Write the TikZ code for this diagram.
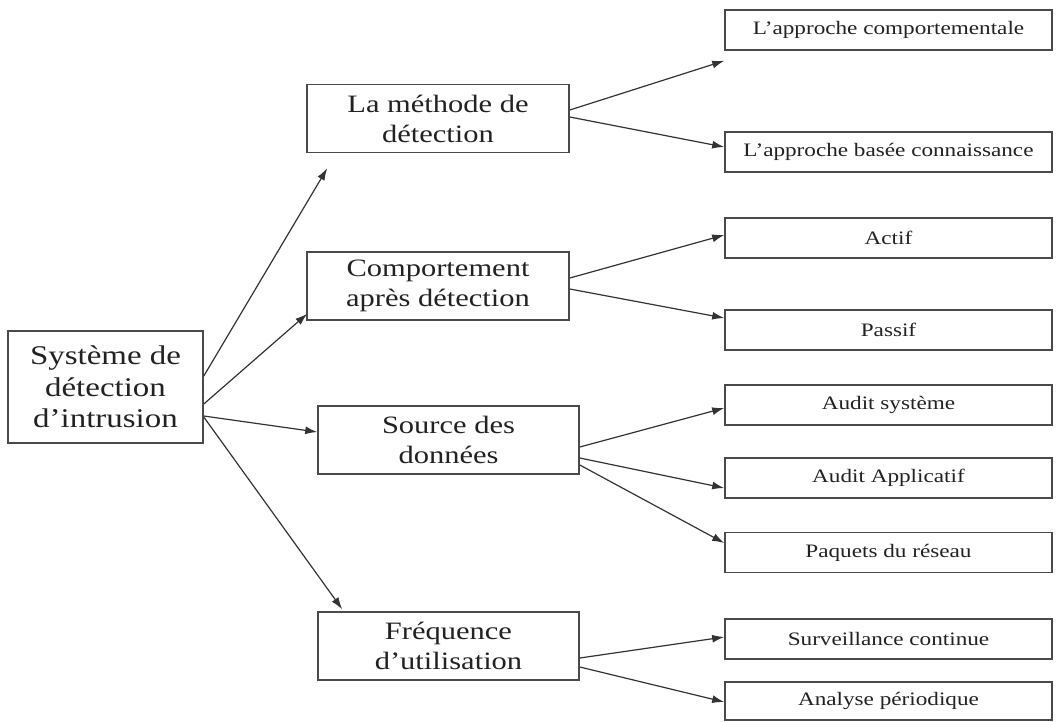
\documentclass[tikz,border=0pt]{standalone}
\usepackage{fontspec}
\setmainfont{Liberation Serif}[FakeStretch=1.22]
\usetikzlibrary{arrows.meta,calc}
\definecolor{ink}{HTML}{222222}
\definecolor{edge}{HTML}{4A4A4A}
\definecolor{wire}{HTML}{333333}
\tikzset{
  box/.style={draw=edge, line width=1.6pt, fill=white, inner sep=0pt,
    text=ink, align=center, anchor=center},
  rootbox/.style={box, minimum width=195pt, minimum height=112pt,
    font=\fontsize{27}{31.5}\selectfont},
  midbox/.style={box, minimum width=262pt, minimum height=68pt,
    font=\fontsize{25}{30}\selectfont},
  leafbox/.style={box, minimum width=327pt, minimum height=40pt,
    font=\fontsize{19}{21}\selectfont},
  link/.style={draw=wire, line width=1.2pt,
    -{Latex[length=12pt,width=8pt]}}
}
\begin{document}
\begin{tikzpicture}[x=1pt,y=-1pt]
\useasboundingbox (0,0) rectangle (1057,721);

% root
\node[rootbox] (root) at (105.5,387) {Système de\\détection\\d’intrusion};

% criteria
\node[midbox] (meth) at (438,118.5) {La méthode de\\détection};
\node[midbox] (comp) at (438,286) {Comportement\\après détection};
\node[midbox, minimum width=261pt] (src) at (448.5,440) {Source des\\données};
\node[midbox, minimum width=261pt] (freq) at (448.5,646) {Fréquence\\d’utilisation};

% leaves
\node[leafbox] (a1) at (888.5,30) {L’approche comportementale};
\node[leafbox] (a2) at (888.5,152) {L’approche basée connaissance};
\node[leafbox] (b1) at (888.5,238) {Actif};
\node[leafbox] (b2) at (888.5,330) {Passif};
\node[leafbox] (c1) at (888.5,405) {Audit système};
\node[leafbox] (c2) at (888.5,478) {Audit Applicatif};
\node[leafbox] (c3) at (888.5,552.5) {Paquets du réseau};
\node[leafbox] (d1) at (888.5,639) {Surveillance continue};
\node[leafbox, minimum height=38pt] (d2) at (888.5,701) {Analyse périodique};

% root to criteria
\draw[link] ($(root.east)+(0,-11)$) -- ($(meth.south west)+(21,15)$);
\draw[link] ($(root.east)+(0,17)$) -- ($(comp.south west)+(1,-7)$);
\draw[link] ($(root.east)+(0,29)$) -- ($(src.west)+(0,-8)$);
\draw[link] ($(root.east)+(0,30)$) -- ($(freq.north west)+(25,-2)$);

% criteria to leaves
\draw[link] ($(meth.east)+(0,-8.5)$) -- ($(a1.south west)+(0,10)$);
\draw[link] ($(meth.east)+(0,-1.5)$) -- ($(a2.west)+(0,-5)$);
\draw[link] ($(comp.east)+(0,-8)$) -- ($(b1.west)+(0,-3)$);
\draw[link] ($(comp.east)+(0,3)$) -- ($(b2.west)+(0,-12)$);
\draw[link] ($(src.east)+(0,7)$) -- ($(c1.west)+(0,3)$);
\draw[link] ($(src.east)+(0,18)$) -- ($(c2.west)+(0,10)$);
\draw[link] ($(src.east)+(0,25)$) -- ($(c3.west)+(0,-9.5)$);
\draw[link] ($(freq.east)+(0,12)$) -- ($(d1.west)+(0,-2)$);
\draw[link] ($(freq.east)+(0,21)$) -- ($(d2.west)+(0,1)$);
\end{tikzpicture}
\end{document}
